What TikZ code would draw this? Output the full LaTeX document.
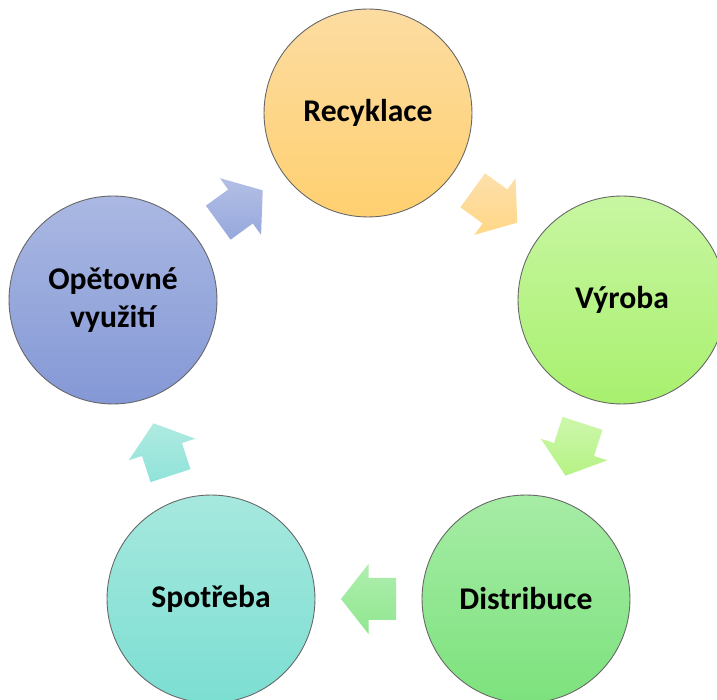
\documentclass[tikz,border=0pt]{standalone}
\usepackage{fontspec}
\setmainfont{Carlito}
\usetikzlibrary{calc}

\definecolor{recTop}{RGB}{252,220,162}
\definecolor{recBot}{RGB}{255,208,112}
\definecolor{vyrTop}{RGB}{200,246,162}
\definecolor{vyrBot}{RGB}{168,240,110}
\definecolor{disTop}{RGB}{166,236,166}
\definecolor{disBot}{RGB}{124,226,124}
\definecolor{spoTop}{RGB}{166,232,222}
\definecolor{spoBot}{RGB}{124,222,210}
\definecolor{opeTop}{RGB}{170,184,226}
\definecolor{opeBot}{RGB}{132,152,214}

\begin{document}
\begin{tikzpicture}
	[	x=0.02cm,y=0.02cm,
	stage/.style={circle,draw=black!60,line width=.5pt,minimum size=4.16cm,inner sep=0pt,
		align=center,font=\fontsize{18}{22}\selectfont\bfseries},
	cyclearrow/.pic={\shade[#1] (-27.5,-21) -- (0,-21) -- (0,-35) -- (27.5,0) -- (0,35) -- (0,21) -- (-27.5,21) -- cycle;}
	]
	\clip (0,0) rectangle (717,700);
	\fill[white] (0,0) rectangle (717,700);

	\node[stage,top color=recTop,bottom color=recBot] (rec) at (368,587){Recyklace};
	\node[stage,top color=vyrTop,bottom color=vyrBot] (vyr) at (622,400){Výroba};
	\node[stage,top color=disTop,bottom color=disBot] (dis) at (526,101){Distribuce};
	\node[stage,top color=spoTop,bottom color=spoBot] (spo) at (211,101){Spotřeba};
	\node[stage,top color=opeTop,bottom color=opeBot] (ope) at (113,400){Opětovné\\využití};

	\pic[rotate=-36] at ($(rec)!.5!(vyr)$) {cyclearrow={top color=recTop!90!white,bottom color=recBot!85!white}};
	\pic[rotate=-108] at ($(vyr)!.5!(dis)$) {cyclearrow={top color=vyrTop!90!white,bottom color=vyrBot!85!white}};
	\pic[rotate=180] at ($(dis)!.5!(spo)$) {cyclearrow={top color=disTop!90!white,bottom color=disBot!85!white}};
	\pic[rotate=108] at ($(spo)!.5!(ope)$) {cyclearrow={top color=spoTop!90!white,bottom color=spoBot!85!white}};
	\pic[rotate=36] at ($(ope)!.5!(rec)$) {cyclearrow={top color=opeTop!90!white,bottom color=opeBot!85!white}};
\end{tikzpicture}
\end{document}
